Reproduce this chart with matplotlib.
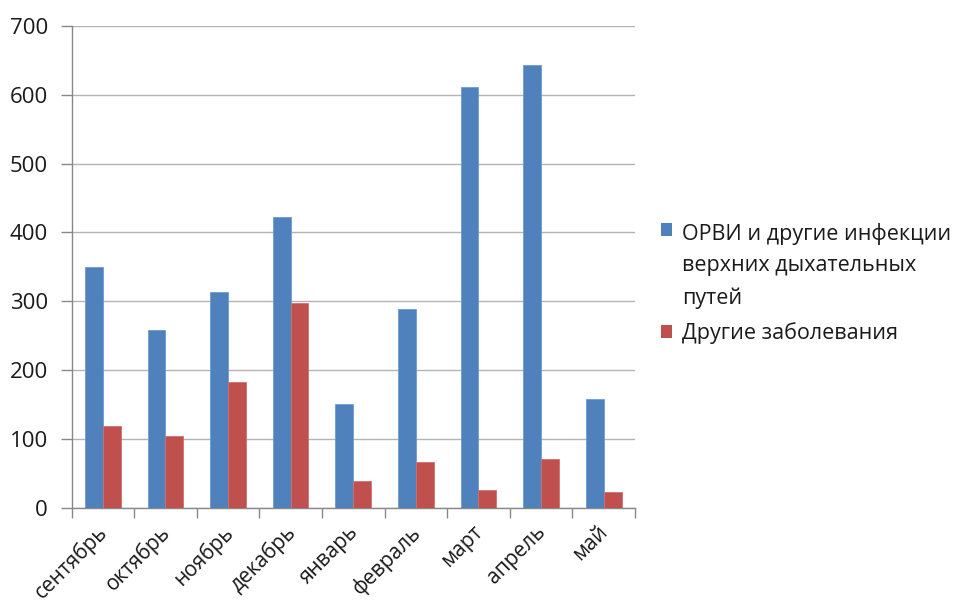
import matplotlib
matplotlib.use("Agg")
import matplotlib.pyplot as plt
import matplotlib.transforms as mtransforms
from matplotlib.patches import Patch, Rectangle
from matplotlib.legend_handler import HandlerPatch
import numpy as np

months = ["сентябрь", "октябрь", "ноябрь", "декабрь", "январь",
          "февраль", "март", "апрель", "май"]
orvi = [350, 258, 313, 422, 150, 288, 611, 643, 158]
other = [119, 104, 182, 297, 38, 66, 25, 71, 22]
series_names = ["ОРВИ и другие инфекции\nверхних дыхательных\nпутей",
                "Другие заболевания"]
yticks = [0, 100, 200, 300, 400, 500, 600, 700]

plt.rcParams['font.family'] = ['Open Sans', 'DejaVu Sans']

W, H = 957, 606
fig = plt.figure(figsize=(W / 100, H / 100), dpi=100)
ax = fig.add_axes([71.5 / W, 1 - 507.5 / H, (635 - 71.5) / W, (507.5 - 26) / H])

x = np.arange(len(months))
bw = 0.285
blue = "#4F81BD"
red = "#C0504D"
ax.bar(x - bw / 2, orvi, bw, color=blue, edgecolor="#6f9bd0", linewidth=0.6, zorder=3)
ax.bar(x + bw / 2, other, bw, color=red, edgecolor="#d07070", linewidth=0.6, zorder=3)

ax.set_xlim(-0.5, len(months) - 0.5)
ax.set_ylim(0, 700)
ax.set_yticks(yticks)
ax.set_yticklabels([str(v) for v in yticks], fontsize=16, color="#1a1a1a")
ax.yaxis.grid(True, color="#b3b3b3", linewidth=1.0, zorder=0)
ax.set_axisbelow(True)

ax.set_xticks(np.arange(-0.5, len(months), 1.0))
ax.set_xticklabels([])
ax.set_xticks(x, minor=True)
ax.set_xticklabels(months, minor=True, rotation=45, ha="right",
                   rotation_mode="anchor", fontsize=15, color="#1a1a1a")
ax.tick_params(axis="x", which="minor", length=0, pad=10)
ax.tick_params(axis="x", which="major", length=7, color="#888888", width=1)
ax.tick_params(axis="y", length=8, color="#888888", width=1, pad=9)
shift = mtransforms.ScaledTranslation(-6 / 100, 0, fig.dpi_scale_trans)
for lab in ax.get_xticklabels(minor=True):
    lab.set_transform(lab.get_transform() + shift)

for s in ["top", "right"]:
    ax.spines[s].set_visible(False)
for s in ["left", "bottom"]:
    ax.spines[s].set_color("#888888")
    ax.spines[s].set_linewidth(1)


class TopHandler(HandlerPatch):
    def __init__(self, lift):
        super().__init__()
        self.lift = lift

    def create_artists(self, legend, orig_handle, xdescent, ydescent,
                       width, height, fontsize, trans):
        r = Rectangle((-xdescent, -ydescent + self.lift), width, height,
                      facecolor=orig_handle.get_facecolor(), edgecolor="none",
                      transform=trans)
        return [r]


lfs = 15.5
lsp = 1.68
h1 = Patch(facecolor=blue)
h2 = Patch(facecolor=red)
leg = fig.legend([h1, h2], series_names, loc="upper left",
                 bbox_to_anchor=(652 / W, 1 - 214 / H),
                 frameon=False, fontsize=lfs, handlelength=0.55, handleheight=0.55,
                 handletextpad=0.45, labelspacing=0.62, borderaxespad=0,
                 handler_map={h1: TopHandler(26.4), h2: TopHandler(0)})
for t in leg.get_texts():
    t.set_color("#1a1a1a")
    t.set_linespacing(lsp)

fig.savefig("out.png", dpi=100)
